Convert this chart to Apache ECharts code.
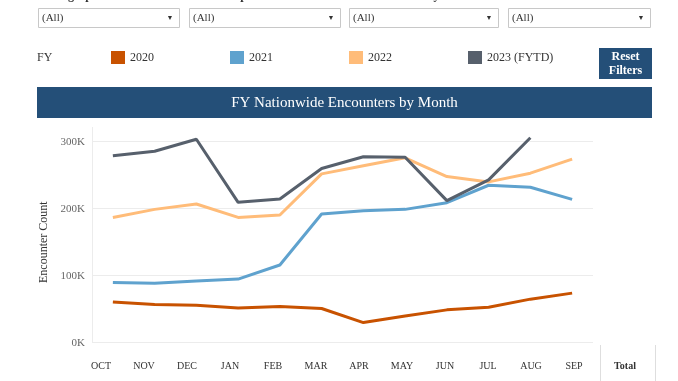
<!DOCTYPE html>
<html>
<head>
<meta charset="utf-8">
<script src="https://cdn.jsdelivr.net/npm/echarts@6/dist/echarts.min.js"></script>
<style>
html,body{margin:0;padding:0;background:#fff;}
#chart{width:678px;height:381px;}
</style>
</head>
<body>
<div id="chart"></div>
<script>
var months = ['OCT','NOV','DEC','JAN','FEB','MAR','APR','MAY','JUN','JUL','AUG','SEP'];
var seriesNames = ['2020','2021','2022','2023 (FYTD)'];
var fy2020 = [60700, 57000, 55800, 51800, 54000, 51000, 30000, 40000, 49000, 53000, 65000, 74000];
var fy2021 = [90000, 88600, 92000, 95000, 116000, 192000, 197000, 199000, 209000, 235000, 232000, 214000];
var fy2022 = [187000, 199000, 207000, 187000, 190600, 252000, 264000, 276000, 248000, 240000, 253000, 274000];
var fy2023 = [279000, 285700, 303600, 209500, 214500, 260000, 277600, 276700, 212000, 243000, 306000, null];
var yTicks = [0, 100000, 200000, 300000];
var filterLabels = ['Demographic','Citizenship','Title of Authority','State'];
var filterValue = '(All)';
var colors = ['#c85200','#5fa2ce','#ffbc79','#57606c'];
var navy = '#244f78';
var serif = '"Liberation Serif","Times New Roman",serif';

var chart = echarts.init(document.getElementById('chart'), null, {renderer:'canvas'});

var boxes = [[38,179],[189,340],[349,498],[508,650]];
var graphics = [];
boxes.forEach(function(b, i){
  graphics.push({type:'text', x:b[0], y:2, style:{text:filterLabels[i], font:'bold 12px '+serif, fill:'#333', textAlign:'left', textVerticalAlign:'bottom'}});
  graphics.push({type:'rect', shape:{x:b[0]+0.5, y:8.5, width:b[1]-b[0], height:19}, style:{fill:'#fff', stroke:'#c8c8c8', lineWidth:1}});
  graphics.push({type:'text', x:b[0]+4, y:18, style:{text:filterValue, font:'11px '+serif, fill:'#333', textAlign:'left', textVerticalAlign:'middle'}});
  graphics.push({type:'text', x:b[1]-9, y:18, style:{text:'\u25BC', font:'7px '+serif, fill:'#333', textAlign:'center', textVerticalAlign:'middle'}});
});
graphics.push({type:'text', x:37, y:58, style:{text:'FY', font:'12px '+serif, fill:'#333', textVerticalAlign:'middle'}});
graphics.push({type:'rect', shape:{x:599, y:48, width:53, height:31}, style:{fill:navy}});
graphics.push({type:'text', x:625.5, y:63.5, style:{text:'Reset\nFilters', font:'bold 12px '+serif, fill:'#fff', textAlign:'center', textVerticalAlign:'middle', lineHeight:14}});
graphics.push({type:'rect', shape:{x:37, y:87, width:615, height:31}, style:{fill:navy}});
graphics.push({type:'text', x:344.5, y:103, style:{text:'FY Nationwide Encounters by Month', font:'15px '+serif, fill:'#fff', textAlign:'center', textVerticalAlign:'middle'}});
graphics.push({type:'line', shape:{x1:92.5, y1:127, x2:92.5, y2:343}, style:{stroke:'#ececec', lineWidth:1}});
graphics.push({type:'line', shape:{x1:600.5, y1:345, x2:600.5, y2:381}, style:{stroke:'#dedede', lineWidth:1}});
graphics.push({type:'line', shape:{x1:655.5, y1:345, x2:655.5, y2:381}, style:{stroke:'#dedede', lineWidth:1}});
graphics.push({type:'text', x:625, y:366, style:{text:'Total', font:'bold 10px '+serif, fill:'#333', textAlign:'center', textVerticalAlign:'middle'}});

var data = [fy2020, fy2021, fy2022, fy2023];
var series = data.map(function(d, i){
  return {
    name: seriesNames[i], type:'line', data:d, xAxisIndex:0, yAxisIndex:0,
    symbol:'none', clip:false, smooth:false,
    lineStyle:{width:3, color:colors[i]}, itemStyle:{color:colors[i]},
    z: 2 + i
  };
});

chart.setOption({
  animation:false,
  textStyle:{fontFamily:serif},
  color: colors,
  legend:{
    data: seriesNames, left:111, top:51, padding:0, orient:'horizontal',
    itemWidth:14, itemHeight:13, itemGap:76, icon:'rect',
    textStyle:{fontFamily:serif, fontSize:12, color:'#333'},
    selectedMode:false
  },
  grid:[
    {left:92, right:85, top:141.7, bottom:38.3, containLabel:false},
    {left:79.5, width:516, top:345, height:5, containLabel:false}
  ],
  xAxis:[
    {gridIndex:0, type:'category', data:months, boundaryGap:true,
     axisLine:{show:false}, axisTick:{show:false}, axisLabel:{show:false}, splitLine:{show:false}},
    {gridIndex:1, type:'category', data:months, boundaryGap:true, position:'bottom',
     axisLine:{show:false}, axisTick:{show:false},
     axisLabel:{show:true, margin:11, fontFamily:serif, fontSize:10, color:'#333'}, splitLine:{show:false}}
  ],
  yAxis:[
    {gridIndex:0, type:'value', min:yTicks[0], max:yTicks[yTicks.length-1], interval:yTicks[1]-yTicks[0],
     name:'Encounter Count', nameLocation:'middle', nameRotate:90, nameGap:40,
     nameTextStyle:{fontFamily:serif, fontSize:12, color:'#333'},
     axisLine:{show:false}, axisTick:{show:false},
     axisLabel:{margin:7, fontFamily:serif, fontSize:11, color:'#666',
       formatter:function(v){return (v/1000)+'K';}},
     splitLine:{show:true, lineStyle:{color:'#ececec', width:1}}},
    {gridIndex:1, type:'value', show:false}
  ],
  graphic: graphics,
  series: series
});
</script>
</body>
</html>
